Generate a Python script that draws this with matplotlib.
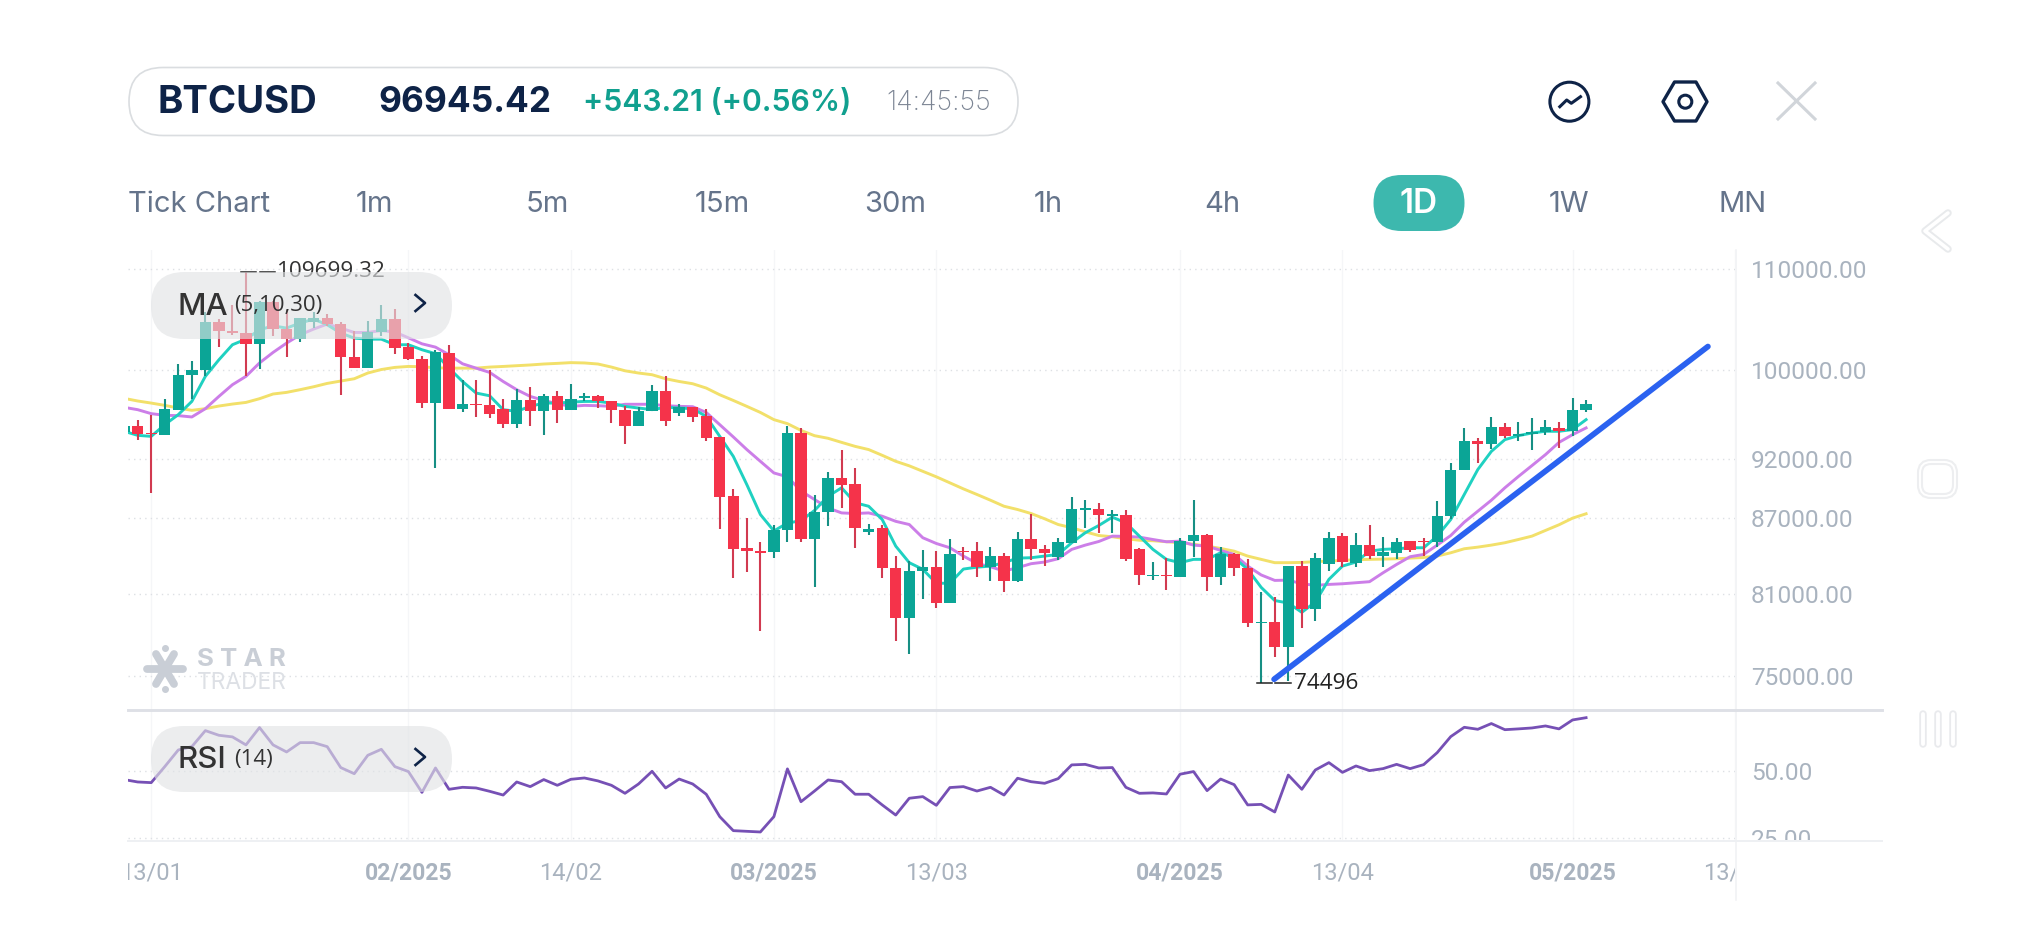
import numpy as np
import matplotlib
matplotlib.use('Agg')
import matplotlib.pyplot as plt
from matplotlib.patches import FancyBboxPatch, Circle, Polygon
from matplotlib.transforms import Bbox, TransformedBbox

# candles, first entry is the one cut off by the left edge
opens = [94330, 94920, 94270, 94100, 96360, 99520, 99980, 104600, 103810, 103560,
         102520, 106680, 104000, 102970, 104660, 105060, 104470, 101250, 100230, 103630,
         104930, 102260, 101110, 96960, 101620, 96450, 96850, 96750, 96450, 95100,
         97270, 96270, 97570, 96360, 97420, 97570, 97110, 96360, 94920, 96210,
         98030, 96050, 96600, 95750, 93880, 88820, 84565, 84380, 84270, 86010,
         94270, 85340, 87500, 90340, 89860, 85870, 86170, 83050, 79240, 82780,
         83090, 80360, 84400, 84330, 83120, 83930, 81990, 85300, 84540, 83910,
         85020, 87720, 87780, 87200, 87250, 84490, 82420, 82500, 82350, 85150,
         85630, 82320, 84090, 83050, 78840, 78890, 77080, 83150, 79860, 83330,
         85530, 83440, 84860, 83960, 84220, 85120, 85150, 85070, 87180, 91020,
         93590, 93270, 94770, 94030, 94180, 94360, 94740, 94450, 96300]
highs = [95000, 95460, 95910, 97330, 100610, 100830, 105680, 104930, 106350, 109699.32,
         106700, 106700, 105850, 105030, 105680, 105450, 104600, 103740, 104700, 106350,
         105920, 102640, 101370, 101950, 102400, 99110, 99050, 100050, 97330, 98250,
         98440, 97750, 98030, 98740, 97880, 97700, 97110, 96660, 96570, 98650,
         99430, 96910, 96600, 96450, 93880, 89440, 87040, 85100, 86490, 94920,
         94720, 88940, 90880, 92740, 91220, 86570, 86430, 83960, 83560, 84440,
         84330, 85280, 84670, 85100, 84700, 84220, 85900, 87360, 84800, 85360,
         88740, 88470, 88280, 87720, 87720, 84590, 83490, 83830, 85440, 88470,
         85710, 84700, 84220, 83700, 81200, 80790, 83170, 83570, 84220, 85850,
         85770, 85770, 86430, 85500, 85420, 85120, 85360, 88410, 91650, 94720,
         93830, 95700, 95160, 95270, 95570, 95460, 95220, 97390, 97270]
lows = [94200, 93680, 89110, 94100, 96360, 97330, 99490, 102260, 103390, 99490,
        100110, 103300, 101250, 102740, 104060, 104270, 97720, 100230, 100230, 103230,
        101500, 100930, 96510, 91220, 96450, 96110, 95700, 95610, 94680, 94740,
        94860, 94100, 95160, 96300, 97150, 96540, 95160, 93330, 94860, 96210,
        94860, 95750, 95220, 93570, 86090, 82216, 82730, 78250, 83830, 85070,
        85070, 81520, 86360, 87830, 84620, 85680, 82216, 77490, 76570, 80610,
        79980, 80310, 83640, 82350, 81990, 81170, 81940, 83640, 83170, 83640,
        84960, 86230, 85820, 85770, 83570, 81680, 82060, 81320, 82290, 83910,
        81240, 81680, 82370, 78570, 74496, 76360, 74640, 78500, 78980, 82780,
        83120, 83070, 83750, 83120, 83700, 84300, 83960, 84700, 86900, 91020,
        91650, 92870, 93840, 93570, 92740, 94120, 92920, 93970, 96110]
closes = [94860, 94210, 94150, 96420, 99580, 100050, 104600, 103810, 103560, 102520,
          106680, 103950, 102970, 105030, 105060, 104470, 101250, 100230, 103700, 104930,
          102070, 101086, 96960, 101750, 96450, 96850, 96750, 95930, 95100, 97270,
          96270, 97600, 96360, 97360, 97570, 97110, 96300, 94920, 96270, 98030,
          95310, 96600, 95700, 93830, 88740, 84540, 84380, 84190, 86010, 94270,
          85340, 87500, 90340, 89800, 86190, 86140, 82990, 79240, 82780, 83070,
          80360, 84100, 84270, 83120, 83930, 82010, 85300, 84490, 84170, 85040,
          87780, 87860, 87230, 87310, 83700, 82450, 82500, 82400, 85180, 85630,
          82290, 84150, 83020, 78840, 78940, 77080, 83150, 79860, 83800, 85420,
          83490, 84860, 83960, 84270, 85100, 84430, 85070, 87200, 91050, 93590,
          93270, 94830, 94030, 94180, 94390, 94770, 94480, 96300, 96910]

ma5 = [94420, 94060, 93970, 95010, 95910, 97110, 99430, 100990, 102430, 102970,
       103880, 104270, 104050, 104540, 104930, 104370, 103560, 103070, 102970, 102970,
       102430, 102430, 101950, 101570, 100200, 98950, 97880, 97630, 96360, 96210,
       96660, 96960, 96960, 97050, 97110, 97110, 96960, 96660, 96510, 96360,
       96570, 96510, 96450, 95750, 93970, 92220, 89800, 87310, 85970, 86610,
       86800, 87640, 88820, 89530, 88280, 87990, 86900, 84750, 83440, 82920,
       81840, 81840, 82940, 83090, 83170, 83440, 83800, 83830, 83960, 84090,
       85020, 85820, 86410, 87090, 86630, 85550, 84490, 83700, 83440, 83700,
       83700, 84220, 83830, 82920, 81520, 80520, 80330, 79630, 80410, 82140,
       83170, 83490, 84350, 84490, 84540, 84620, 84620, 85550, 86900, 88970,
       91080, 92650, 93680, 94030, 94270, 94420, 94420, 94570, 95460]
ma10 = [96570, 96360, 96000, 95850, 95820, 95700, 96450, 97570, 98650, 99430,
        100690, 101690, 102590, 103390, 103950, 104440, 104050, 103620, 103620, 103810,
        103660, 103100, 102520, 102200, 101470, 100610, 100200, 99800, 98950, 98190,
        97570, 97200, 96900, 96660, 96750, 96720, 96660, 96850, 96850, 96850,
        96720, 96660, 96630, 96110, 95010, 93920, 92810, 91790, 90790, 90460,
        89260, 88550, 87850, 87440, 87390, 87440, 87170, 86750, 86490, 85420,
        84960, 84620, 83960, 83380, 83120, 82780, 83050, 83360, 83490, 83750,
        84490, 84830, 85120, 85550, 85530, 85470, 85280, 85100, 85150, 84830,
        84750, 84410, 84090, 83170, 82480, 82060, 82080, 81800, 81680, 81750,
        81800, 81880, 81960, 82650, 83300, 83910, 84090, 84830, 85600, 86680,
        87580, 88490, 89530, 90490, 91420, 92370, 93440, 94120, 94720]
ma30 = [97390, 97150, 96960, 96750, 96510, 96300, 96450, 96690, 96870, 97020,
        97360, 97790, 97940, 98190, 98460, 98770, 98990, 99205, 99740, 100070,
        100270, 100360, 100330, 100230, 100200, 100200, 100200, 100300, 100360, 100430,
        100500, 100590, 100650, 100720, 100690, 100590, 100300, 99950, 99740, 99580,
        99205, 98950, 98740, 98340, 97720, 97200, 96660, 96110, 95460, 95100,
        94500, 94030, 93800, 93440, 93090, 92810, 92310, 91790, 91400, 90930,
        90460, 89950, 89440, 88970, 88490, 87990, 87720, 87390, 86960, 86490,
        86230, 85900, 85600, 85500, 85340, 85220, 85180, 85100, 85020, 84900,
        84750, 84565, 84350, 83960, 83700, 83440, 83440, 83460, 83520, 83570,
        83620, 83670, 83700, 83720, 83750, 83800, 83850, 83960, 84220, 84540,
        84670, 84830, 85020, 85280, 85550, 86010, 86470, 87010, 87370]

rsi = [46.9, 46.0, 45.75, 51.75, 58, 59.25, 65.25, 63.5, 62.9, 59.9,
       66.4, 59.9, 57.25, 60.75, 60.75, 59.25, 51.4, 49.1, 56, 58.25,
       51.75, 49.9, 42.1, 51.25, 43.25, 44, 43.75, 42.5, 41.1, 46,
       44.25, 46.9, 44.75, 47, 47.5, 46.4, 44.75, 41.75, 45.25, 50,
       43.75, 47.1, 45.25, 41.4, 33, 27.75, 27.5, 27.25, 33, 50.9,
       38.6, 42.6, 46.75, 46.1, 41.4, 41.4, 37.4, 33.6, 39.9, 40.5,
       37.25, 43.9, 44.25, 42.6, 44, 41.1, 47.4, 46.1, 45.5, 47.25,
       52.4, 52.6, 51.25, 51.4, 44, 41.75, 41.9, 41.5, 48.9, 49.9,
       42.75, 47.1, 45, 37.4, 37.6, 34.75, 48.6, 43.25, 50.5, 53.25,
       49.6, 52, 50.25, 51, 52.6, 51, 52.5, 57, 63, 66.5,
       65.75, 67.9, 65.6, 65.9, 66.25, 67, 65.9, 69.25, 70.1]

# hand drawn trend line
trend_x = [83.95, 116.0]
trend_y = [74770, 102260]

price_ticks = [75000, 81000, 87000, 92000, 100000, 110000]
rsi_ticks = [25, 50]
date_pos = [1, 20, 32, 47, 59, 77, 89, 106, 118]
date_labels = ['13/01', '02/2025', '14/02', '03/2025', '13/03', '04/2025', '13/04', '05/2025', '13/05']

tabs = ['1m', '5m', '15m', '30m', '1h', '4h', '1W', 'MN']
tab_x = [374, 547, 722, 895, 1048, 1222, 1569, 1743]

RED = '#F5334A'
GREEN = '#0BA596'
NAVY = '#0E2347'
TICK = '#A9B3BF'
TAB = '#65748B'

plt.rcParams['font.family'] = ['Inter', 'DejaVu Sans']

W, H = 2021, 950
fig = plt.figure(figsize=(W / 100, H / 100), dpi=100, facecolor='white')


def px_axes(left, top, right, bottom):
    return fig.add_axes([left / W, 1 - bottom / H, (right - left) / W, (bottom - top) / H])


x = np.arange(len(closes)) - 1
xlim = (-0.715, 117.8)

# ---- price panel ----
ax = px_axes(128, 250, 1735, 710)
ax.set_yscale('log')
ax.set_xlim(xlim)
ax.set_ylim(72640, 111980)
ax.plot(x, ma30, color='#F2E06A', lw=2.1, zorder=2)
ax.plot(x, ma10, color='#CC7EE8', lw=2.1, zorder=2)
ax.plot(x, ma5, color='#1FD1C1', lw=2.1, zorder=2)

o = np.array(opens)
c = np.array(closes)
up = c >= o
ax.vlines(x[up], np.array(lows)[up], np.array(highs)[up], color='#168F84', lw=1.5, zorder=3)
ax.vlines(x[~up], np.array(lows)[~up], np.array(highs)[~up], color='#D13A50', lw=1.5, zorder=3)
body_lo = np.minimum(o, c)
body_hi = np.maximum(o, c)
ax.bar(x[up], (body_hi - body_lo)[up], bottom=body_lo[up], width=0.84, color=GREEN, zorder=4)
ax.bar(x[~up], (body_hi - body_lo)[~up], bottom=body_lo[~up], width=0.84, color=RED, zorder=4)

ax.plot(trend_x, trend_y, color='#2B62F0', lw=4.1, solid_capstyle='round', zorder=6)

# high / low markers
hi = max(highs)
lo = min(lows)
ax.plot([7.66, 8.77], [hi, hi], color='#222222', lw=1.1, zorder=5)
ax.plot([9.0, 10.12], [hi, hi], color='#222222', lw=1.1, zorder=5)
ax.plot([82.7, 83.8], [lo, lo], color='#222222', lw=1.1, zorder=5)
ax.plot([84.04, 85.2], [lo, lo], color='#222222', lw=1.1, zorder=5)
ax.text(10.3, hi, '109699.32', fontsize=16.2, family='Open Sans', color='#333333', va='center', zorder=5)
ax.text(85.4, lo, '74496', fontsize=16.2, family='Open Sans', color='#222222', va='center', zorder=7)

ax.set_yticks(price_ticks, [f'{v:.2f}' for v in price_ticks])
ax.minorticks_off()
ax.yaxis.tick_right()
ax.set_xticks(date_pos)
ax.tick_params(axis='x', length=0, labelbottom=False)
ax.tick_params(axis='y', length=0, pad=11.5, labelsize=17.6, labelcolor=TICK)
for t in ax.get_yticklabels():
    t.set_family('Roboto')
ax.grid(axis='y', color='#DDE0E4', lw=1.0, ls=(0, (1, 3)))
ax.grid(axis='x', color='#F5F6F8', lw=1.0)
ax.set_axisbelow(True)
for s in ax.spines.values():
    s.set_visible(False)

# ---- rsi panel ----
ax2 = px_axes(128, 710, 1735, 841)
ax2.set_xlim(xlim)
ax2.set_ylim(23.87, 72.98)
ax2.plot(x, rsi, color='#7650B5', lw=2.0, zorder=3)
ax2.set_yticks(rsi_ticks, [f'{v:.2f}' for v in rsi_ticks])
ax2.yaxis.tick_right()
ax2.set_xticks(date_pos, date_labels)
ax2.tick_params(axis='x', length=0, pad=14.5, labelsize=17, labelcolor=TICK)
ax2.tick_params(axis='y', length=0, pad=11.5, labelsize=17.6, labelcolor=TICK)
ax2.grid(axis='y', color='#DDE0E4', lw=1.0, ls=(0, (1, 3)))
ax2.grid(axis='x', color='#F5F6F8', lw=1.0)
ax2.set_axisbelow(True)
for s in ax2.spines.values():
    s.set_visible(False)

# ---- app chrome on top ----
ui = fig.add_axes([0, 0, 1, 1], zorder=10)
ui.set_xlim(0, W)
ui.set_ylim(H, 0)
ui.axis('off')
ui.patch.set_alpha(0)

# labels cut off at the panel edges
clip = TransformedBbox(Bbox([[128, 250], [1735, 920]]), ui.transData)
for t in ax2.get_xticklabels():
    t.set_family('Roboto')
    t.set_clip_box(clip)
    t.set_clip_on(True)
    if '/20' in t.get_text():
        t.set_fontweight('bold')
        t.set_fontsize(16.6)
clip_y = TransformedBbox(Bbox([[1740, 710], [1890, 840]]), ui.transData)
for t in ax2.get_yticklabels():
    t.set_family('Roboto')
    t.set_clip_box(clip_y)
    t.set_clip_on(True)


def pill(left, top, right, bottom, fc, ec='none', alpha=1.0, lw=0):
    h = bottom - top
    p = FancyBboxPatch((left, top), right - left, h, boxstyle=f'round,pad=0,rounding_size={h / 2}',
                       fc=fc, ec=ec, lw=lw, alpha=alpha)
    ui.add_patch(p)


# header
pill(129, 67.5, 1018, 135.5, 'white', ec='#DADDE0', lw=1.2)
ui.text(157, 103, 'BTCUSD', fontsize=27.6, fontweight='bold', color=NAVY, va='center')
ui.text(378, 103, '96945.42', fontsize=25.4, fontweight='bold', color=NAVY, va='center')
ui.text(583, 103, '+543.21 (+0.56%)', fontsize=21.7, fontweight='semibold', color='#11A08F', va='center')
ui.text(886, 103, '14:45:55', fontsize=19.4, fontweight='light', color='#7C8594', va='center')

# header icons
ui.add_patch(Circle((1569.4, 101.7), 19.5, fc='none', ec=NAVY, lw=2.2))
ui.plot([1559.8, 1566.7, 1571.3, 1580.5], [106.7, 100, 103.3, 96.7], color=NAVY, lw=2.2)
ui.add_patch(Polygon([(1663, 101.7), (1674.5, 82), (1696, 82), (1707, 101.7), (1696, 121), (1674.5, 121)],
                     closed=True, fc='none', ec=NAVY, lw=2.4, joinstyle='round'))
ui.add_patch(Circle((1685.3, 101.7), 6.5, fc='none', ec=NAVY, lw=2.2))
ui.plot([1778, 1815], [83, 119], color='#D1D5DA', lw=2.2)
ui.plot([1815, 1778], [83, 119], color='#D1D5DA', lw=2.2)

# timeframe row
ui.text(128, 205, 'Tick Chart', fontsize=21, color=TAB, va='center')
for lab, tx in zip(tabs, tab_x):
    ui.text(tx, 205, lab, fontsize=21, color=TAB, va='center', ha='center')
pill(1373.5, 175, 1464.5, 231, '#3DB8AE')
ui.text(1419, 204, '1D', fontsize=24, fontweight='semibold', color='white', va='center', ha='center')

# right edge axis and separators
ui.plot([1735.5, 1735.5], [250, 900], color='#F0F1F4', lw=1.1)
ui.plot([128, 1882], [710, 710], color='#DEE0E6', lw=2.1)
ui.plot([128, 1882], [841, 841], color='#EEF0F3', lw=1.4)

# indicator pills (see-through, candles show under them)
pill(151, 272, 452, 339, '#E1E3E5', alpha=0.63)
ui.text(178, 307, 'MA', fontsize=22.5, fontweight='medium', color='#333333', va='center')
ui.text(234, 306, '(5,10,30)', fontsize=16, family='Open Sans', color='#333333', va='center')
ui.plot([415.5, 425, 415.5], [295, 303, 311], color=NAVY, lw=1.9)
pill(151, 726, 452, 792, '#E1E3E5', alpha=0.63)
ui.text(178, 759.5, 'RSI', fontsize=22.5, fontweight='medium', color='#333333', va='center')
ui.text(234, 759, '(14)', fontsize=16, family='Open Sans', color='#333333', va='center')
ui.plot([415.5, 425, 415.5], [749, 757, 765], color=NAVY, lw=1.9)

# watermark
for dx, dy in [(18, 0), (9, 15), (9, -15)]:
    ui.plot([165 - dx, 165 + dx], [669 - dy, 669 + dy], color='#C9CED6', lw=5.6, solid_capstyle='round')
ui.plot([165], [648], 'o', color='#C9CED6', ms=4)
ui.plot([165], [689], 'o', color='#C9CED6', ms=4)
ui.text(197, 660, 'S T A R', fontsize=18.6, fontweight='bold', color='#C9CED6', va='center')
ui.text(197, 683, 'TRADER', fontsize=16.4, color='#DDE0E5', va='center')

# faint side handles
ui.plot([1948, 1925, 1948], [213, 231, 249], color='#E8EAEC', lw=5.4, solid_joinstyle='round', solid_capstyle='round')
ui.plot([1948, 1925, 1948], [213, 231, 249], color='white', lw=2.6, solid_joinstyle='round', solid_capstyle='round')
ui.add_patch(FancyBboxPatch((1920, 462), 35, 34, boxstyle='round,pad=0,rounding_size=11', fc='white', ec='#EDEEF0', lw=4.4))
ui.add_patch(FancyBboxPatch((1920, 462), 35, 34, boxstyle='round,pad=0,rounding_size=11', fc='none', ec='white', lw=1.4))
for bx in [1923, 1938, 1953]:
    ui.plot([bx, bx], [714, 744], color='#E9EAED', lw=5.4, solid_capstyle='round')
    ui.plot([bx, bx], [714, 744], color='white', lw=2.8, solid_capstyle='round')

fig.savefig('out.png', dpi=100)
